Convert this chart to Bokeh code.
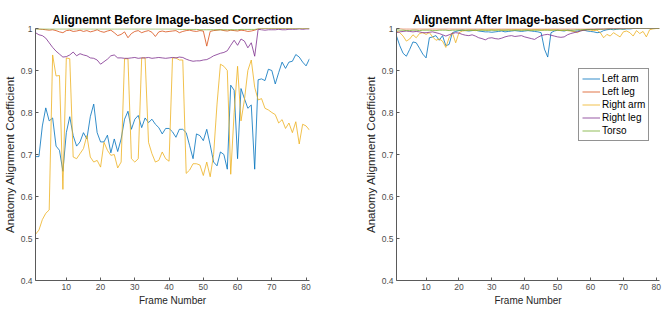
from bokeh.plotting import figure
from bokeh.layouts import row
from bokeh.models import FixedTicker, CustomJSTickFormatter, Legend, LegendItem, Range1d
from bokeh.embed import file_html
from bokeh.resources import INLINE

frames = list(range(1, 82))
series_names = ["Left arm", "Left leg", "Right arm", "Right leg", "Torso"]
series_colors = ["#0072BD", "#D95319", "#EDB120", "#7E2F8E", "#77AC30"]
x_ticks = [10, 20, 30, 40, 50, 60, 70, 80]
y_ticks = [0.4, 0.5, 0.6, 0.7, 0.8, 0.9, 1.0]

before_left_arm = [0.695, 0.695, 0.768, 0.811, 0.78, 0.787, 0.72, 0.71, 0.66, 0.752,
                   0.79, 0.745, 0.72, 0.73, 0.752, 0.737, 0.79, 0.82, 0.752, 0.73,
                   0.73, 0.746, 0.704, 0.737, 0.707, 0.737, 0.784, 0.803, 0.76, 0.784,
                   0.793, 0.764, 0.787, 0.776, 0.784, 0.772, 0.764, 0.749, 0.762, 0.762,
                   0.754, 0.741, 0.76, 0.76, 0.752, 0.721, 0.69, 0.749, 0.745, 0.733,
                   0.76, 0.723, 0.682, 0.673, 0.706, 0.70, 0.665, 0.865, 0.853, 0.69,
                   0.857, 0.833, 0.81, 0.818, 0.665, 0.878, 0.88, 0.876, 0.903, 0.9,
                   0.868, 0.895, 0.92, 0.905, 0.92, 0.922, 0.938, 0.932, 0.92, 0.911,
                   0.928]
before_left_leg = [1.0, 0.999, 0.998, 0.997, 0.996, 0.997, 0.995, 0.992, 0.99, 0.995,
                   0.996, 0.993, 0.994, 0.996, 0.993, 0.995, 0.992, 0.994, 0.997, 0.993,
                   0.991, 0.994, 0.996, 0.99, 0.983, 0.986, 0.992, 0.978, 0.988, 0.993,
                   0.995, 0.99, 0.993, 0.995, 0.991, 0.981, 0.992, 0.994, 0.992, 0.993,
                   0.994, 0.995, 0.99, 0.993, 0.995, 0.996, 0.994, 0.993, 0.995, 0.994,
                   0.958, 0.993, 0.995, 0.996, 0.997, 0.995, 0.994, 0.996, 0.995, 0.994,
                   0.996, 0.995, 0.993, 0.994, 0.996, 0.999, 1.0, 1.0, 1.0, 1.0,
                   1.0, 1.0, 1.0, 1.0, 1.0, 1.0, 1.0, 1.0, 1.0, 1.0,
                   1.0]
before_right_arm = [0.51, 0.52, 0.545, 0.56, 0.568, 0.937, 0.887, 0.888, 0.617, 0.93,
                    0.928, 0.694, 0.69, 0.702, 0.714, 0.745, 0.694, 0.682, 0.686, 0.67,
                    0.729, 0.71, 0.698, 0.70, 0.668, 0.682, 0.928, 0.928, 0.69, 0.682,
                    0.69, 0.93, 0.93, 0.729, 0.702, 0.682, 0.686, 0.706, 0.69, 0.684,
                    0.93, 0.93, 0.925, 0.925, 0.655, 0.663, 0.678, 0.678, 0.675, 0.65,
                    0.682, 0.647, 0.70, 0.82, 0.915, 0.91, 0.90, 0.653, 0.80, 0.91,
                    0.78, 0.83, 0.90, 0.925, 0.86, 0.83, 0.833, 0.81, 0.806, 0.80,
                    0.795, 0.775, 0.783, 0.762, 0.775, 0.752, 0.778, 0.725, 0.772, 0.768,
                    0.758]
before_right_leg = [0.99, 0.985, 0.983, 0.977, 0.966, 0.955, 0.946, 0.939, 0.932, 0.933,
                    0.937, 0.944, 0.935, 0.94, 0.937, 0.935, 0.93, 0.929, 0.925, 0.915,
                    0.921, 0.927, 0.935, 0.937, 0.93, 0.93, 0.929, 0.929, 0.93, 0.931,
                    0.929, 0.93, 0.93, 0.931, 0.929, 0.93, 0.931, 0.93, 0.929, 0.93,
                    0.931, 0.93, 0.932, 0.931, 0.927, 0.924, 0.922, 0.923, 0.923, 0.925,
                    0.926, 0.93, 0.935, 0.938, 0.941, 0.943, 0.947, 0.96, 0.972, 0.96,
                    0.975, 0.97, 0.954, 0.966, 0.934, 0.998, 0.997, 0.996, 0.997, 0.997,
                    0.997, 0.998, 0.997, 0.997, 0.998, 0.998, 0.998, 0.999, 0.998, 0.999,
                    0.999]
before_torso = [0.999, 0.999, 0.999, 0.999, 0.999, 0.999, 0.999, 0.999, 0.999, 0.999,
                0.999, 0.999, 0.999, 0.999, 0.999, 0.999, 0.999, 0.999, 0.999, 0.999,
                0.999, 0.999, 0.999, 0.999, 0.999, 0.999, 0.999, 0.999, 0.999, 0.999,
                0.999, 0.999, 0.999, 0.999, 0.999, 0.999, 0.999, 0.999, 0.999, 0.999,
                0.999, 0.999, 0.998, 0.998, 0.998, 0.998, 0.998, 0.998, 0.997, 0.997,
                0.997, 0.997, 0.997, 0.997, 0.997, 0.997, 0.997, 0.997, 0.997, 0.997,
                0.998, 0.998, 0.998, 0.998, 0.998, 1.0, 1.0, 1.0, 1.0, 1.0,
                1.0, 1.0, 1.0, 1.0, 1.0, 1.0, 1.0, 1.0, 1.0, 1.0,
                1.0]

after_left_arm = [0.982, 0.959, 0.941, 0.934, 0.95, 0.968, 0.966, 0.953, 0.939, 0.93,
                  0.978, 0.98, 0.983, 0.972, 0.983, 0.959, 0.962, 0.99, 0.993, 0.995,
                  0.996, 0.995, 0.994, 0.995, 0.996, 0.994, 0.993, 0.992, 0.992, 0.991,
                  0.992, 0.993, 0.994, 0.992, 0.993, 0.994, 0.995, 0.994, 0.993, 0.994,
                  0.995, 0.994, 0.993, 0.992, 0.99, 0.951, 0.932, 0.99, 0.994, 0.996,
                  0.995, 0.994, 0.996, 0.995, 0.993, 0.994, 0.995, 0.996, 0.994, 0.993,
                  0.992, 0.99, 0.991, 0.995, 0.997, 0.998, 0.997, 0.998, 0.999, 0.998,
                  0.999, 0.999, 1.0, 1.0, 1.0, 1.0, 1.0, 1.0, 1.0, 1.0,
                  1.0]
after_left_leg = [1.0, 1.0, 0.999, 0.999, 0.999, 0.999, 0.999, 0.999, 0.999, 0.999,
                  0.999, 0.999, 0.999, 0.999, 0.999, 0.999, 0.999, 0.999, 0.999, 0.999,
                  0.999, 0.999, 0.999, 0.999, 0.999, 0.999, 0.999, 0.999, 0.999, 0.999,
                  0.999, 0.999, 0.999, 0.999, 0.999, 0.999, 0.999, 0.999, 0.999, 0.999,
                  0.999, 0.999, 0.999, 0.999, 0.999, 0.999, 0.999, 0.999, 0.999, 0.999,
                  0.999, 0.999, 0.999, 0.999, 0.999, 0.999, 0.999, 0.999, 0.999, 0.999,
                  0.999, 0.999, 0.999, 0.999, 1.0, 1.0, 1.0, 1.0, 1.0, 1.0,
                  1.0, 1.0, 1.0, 1.0, 1.0, 1.0, 1.0, 1.0, 1.0, 1.0,
                  1.0]
after_right_arm = [0.994, 0.99, 0.982, 0.97, 0.975, 0.985, 0.978, 0.988, 0.99, 0.986,
                   0.99, 0.98, 0.972, 0.975, 0.97, 0.955, 0.978, 0.99, 0.966, 0.99,
                   0.994, 0.995, 0.996, 0.996, 0.995, 0.996, 0.997, 0.996, 0.996, 0.997,
                   0.996, 0.997, 0.996, 0.996, 0.997, 0.996, 0.997, 0.997, 0.996, 0.997,
                   0.997, 0.996, 0.997, 0.997, 0.996, 0.997, 0.997, 0.996, 0.997, 0.996,
                   0.995, 0.996, 0.995, 0.994, 0.993, 0.99, 0.995, 0.996, 0.997, 0.996,
                   0.995, 0.996, 0.99, 0.978, 0.986, 0.982, 0.99, 0.985, 0.98, 0.992,
                   0.994, 0.99, 0.982, 0.995, 0.988, 0.993, 0.98, 0.997, 0.999, 1.0,
                   1.0]
after_right_leg = [0.99, 0.992, 0.993, 0.994, 0.993, 0.992, 0.993, 0.992, 0.99, 0.99,
                   0.991, 0.992, 0.99, 0.988, 0.985, 0.982, 0.985, 0.988, 0.99, 0.989,
                   0.986, 0.984, 0.983, 0.985, 0.982, 0.978, 0.976, 0.973, 0.977, 0.978,
                   0.976, 0.975, 0.977, 0.98, 0.982, 0.983, 0.981, 0.982, 0.983, 0.98,
                   0.978, 0.976, 0.974, 0.979, 0.983, 0.985, 0.986, 0.984, 0.982, 0.98,
                   0.979, 0.98, 0.985, 0.988, 0.99, 0.992, 0.994, 0.996, 0.997, 0.998,
                   0.998, 0.999, 0.999, 0.999, 0.999, 1.0, 1.0, 1.0, 1.0, 1.0,
                   1.0, 1.0, 1.0, 1.0, 1.0, 1.0, 1.0, 1.0, 1.0, 1.0,
                   1.0]
after_torso = [0.997, 0.996, 0.996, 0.995, 0.995, 0.996, 0.996, 0.995, 0.996, 0.996,
               0.996, 0.995, 0.995, 0.996, 0.996, 0.996, 0.995, 0.996, 0.996, 0.996,
               0.996, 0.996, 0.996, 0.996, 0.996, 0.996, 0.996, 0.996, 0.996, 0.996,
               0.996, 0.996, 0.996, 0.996, 0.996, 0.996, 0.996, 0.996, 0.996, 0.996,
               0.996, 0.996, 0.996, 0.996, 0.996, 0.996, 0.996, 0.996, 0.996, 0.996,
               0.996, 0.996, 0.996, 0.996, 0.996, 0.997, 0.997, 0.997, 0.998, 0.998,
               0.998, 0.998, 0.998, 0.999, 0.999, 0.999, 0.999, 0.999, 0.999, 0.999,
               1.0, 1.0, 1.0, 1.0, 1.0, 1.0, 1.0, 1.0, 1.0, 1.0,
               1.0]

FONT = "Liberation Sans"


def make_plot(title, series, frame_w, border_right):
    p = figure(output_backend="svg", toolbar_location=None,
               frame_width=frame_w, frame_height=252,
               x_range=Range1d(1, 81), y_range=Range1d(0.4, 1.0),
               min_border_left=35, min_border_right=border_right,
               min_border_top=0, min_border_bottom=0,
               background_fill_color="white", border_fill_color="white",
               outline_line_color=None)
    p.margin = (8, 0, 0, 0)
    p.title.text = title
    p.title.align = "center"
    p.title.text_font = FONT
    p.title.text_font_size = "12px"
    p.title.text_font_style = "bold"
    p.title.text_color = "#000000"
    p.title.standoff = 4
    p.title.offset = 0
    p.grid.visible = False
    for ax in (p.xaxis[0], p.yaxis[0]):
        ax.axis_line_color = "#5a5a5a"
        ax.axis_line_width = 1
        ax.major_tick_line_color = "#5a5a5a"
        ax.major_tick_in = 3
        ax.major_tick_out = 0
        ax.minor_tick_line_color = None
        ax.major_label_text_font = FONT
        ax.major_label_text_font_size = "8.5px"
        ax.major_label_text_color = "#4d4d4d"
        ax.axis_label_text_font = FONT
        ax.axis_label_text_font_style = "normal"
        ax.axis_label_text_color = "#262626"
        ax.major_label_standoff = 3
        ax.axis_label_standoff = 2
    p.xaxis[0].ticker = FixedTicker(ticks=x_ticks)
    p.yaxis[0].ticker = FixedTicker(ticks=y_ticks)
    p.yaxis[0].formatter = CustomJSTickFormatter(
        code="return tick > 0.999 ? '1' : tick.toFixed(1);")
    p.xaxis[0].axis_label = "Frame Number"
    p.xaxis[0].axis_label_text_font_size = "10px"
    p.yaxis[0].axis_label = "Anatomy Alignment Coefficient"
    p.yaxis[0].axis_label_text_font_size = "11.5px"
    renderers = []
    for vals, color in zip(series, series_colors):
        r = p.line(frames, vals, line_color=color, line_width=1, line_alpha=0.8)
        renderers.append(r)
    return p, renderers


p1, _ = make_plot("Alignemnt Before Image-based Correction",
                  [before_left_arm, before_left_leg, before_right_arm, before_right_leg, before_torso],
                  274, 52)
p2, rs = make_plot("Alignemnt After Image-based Correction",
                   [after_left_arm, after_left_leg, after_right_arm, after_right_leg, after_torso],
                   263, 6)

legend = Legend(items=[LegendItem(label=n, renderers=[r]) for n, r in zip(series_names, rs)],
                location=(182, 139))
legend.label_text_font = FONT
legend.label_text_font_size = "10px"
legend.label_text_color = "#000000"
legend.glyph_width = 18
legend.glyph_height = 13
legend.label_height = 13
legend.label_standoff = 2
legend.spacing = 0
legend.padding = 3
legend.margin = 0
legend.border_line_color = "#262626"
legend.border_line_width = 1
legend.background_fill_color = "white"
legend.background_fill_alpha = 1
p2.add_layout(legend)

layout = row(p1, p2)
open("out.html", "w").write(file_html(layout, INLINE))
